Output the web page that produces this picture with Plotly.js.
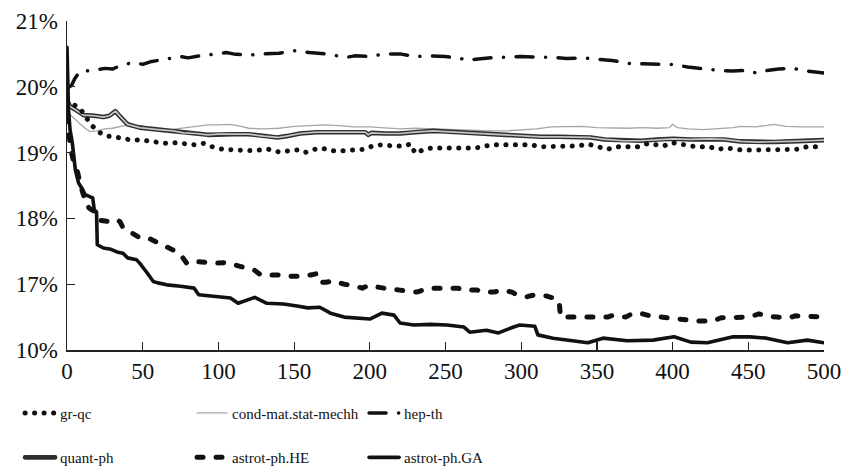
<!DOCTYPE html>
<html>
<head>
<meta charset="utf-8">
<script src="https://cdn.plot.ly/plotly-3.0.1.min.js"></script>
<style>
html,body{margin:0;padding:0;background:#fff;}
#chart{width:845px;height:469px;}
.js-line{stroke-linecap:round;stroke-linejoin:round;}
</style>
</head>
<body>
<div id="chart"></div>
<script>
// ---- data ----
const seriesNames = ["gr-qc", "cond-mat.stat-mechh", "hep-th", "quant-ph", "astrot-ph.HE", "astrot-ph.GA"];

const grqcX = [0,3,6,9,12,14,17,21,27,32,37,44,50,55,60,66,72,79,84,90,97,103,110,120,128,133,140,145,152,157,165,171,176,183,190,196,203,209,215,222,227,230,236,241,250,260,270,281,290,300,306,313,320,330,337,344,350,357,363,370,377,384,394,400,407,415,424,430,436,445,456,465,476,482,489,496,500];
const grqcY = [19.80,19.75,19.70,19.66,19.55,19.48,19.40,19.31,19.25,19.24,19.21,19.19,19.19,19.17,19.16,19.14,19.15,19.14,19.12,19.14,19.08,19.05,19.04,19.03,19.04,19.05,19.01,19.03,19.04,19.00,19.06,19.06,19.03,19.03,19.05,19.05,19.11,19.12,19.10,19.10,19.13,18.99,19.05,19.07,19.07,19.07,19.07,19.12,19.12,19.12,19.12,19.09,19.09,19.10,19.10,19.13,19.09,19.05,19.09,19.09,19.09,19.14,19.10,19.15,19.12,19.09,19.09,19.05,19.07,19.04,19.04,19.05,19.05,19.05,19.09,19.09,19.09];

const condX = [1,4,8,12,15,20,25,30,35,40,48,55,60,66,72,77,85,93,100,108,115,120,130,140,150,160,170,180,190,200,210,220,230,240,250,260,270,280,290,300,310,320,330,340,350,360,370,380,390,398,400,403,410,420,430,440,445,455,467,475,485,500];
const condY = [19.60,19.53,19.45,19.37,19.32,19.33,19.36,19.37,19.40,19.42,19.41,19.37,19.35,19.34,19.36,19.37,19.40,19.42,19.42,19.43,19.40,19.37,19.36,19.37,19.40,19.41,19.42,19.41,19.39,19.39,19.38,19.36,19.37,19.36,19.36,19.35,19.34,19.33,19.33,19.34,19.36,19.39,19.40,19.40,19.38,19.37,19.37,19.38,19.37,19.38,19.43,19.38,19.36,19.35,19.36,19.38,19.40,19.39,19.43,19.40,19.39,19.39];

const hepX = [0,3,5,8,10,15,20,25,30,35,40,45,50,55,60,70,75,80,90,100,105,110,120,130,140,150,155,160,170,180,185,190,200,210,220,230,240,250,260,265,270,280,290,300,310,320,330,340,350,360,370,375,380,390,400,410,420,430,440,450,455,460,470,480,485,490,500];
const hepY = [19.98,20.02,20.12,20.22,20.25,20.24,20.26,20.28,20.27,20.32,20.35,20.37,20.34,20.38,20.40,20.44,20.46,20.44,20.48,20.50,20.52,20.50,20.48,20.50,20.51,20.55,20.53,20.52,20.50,20.47,20.45,20.47,20.46,20.50,20.50,20.46,20.47,20.46,20.43,20.40,20.42,20.44,20.45,20.46,20.45,20.45,20.43,20.44,20.42,20.40,20.36,20.34,20.35,20.35,20.34,20.30,20.27,20.25,20.24,20.25,20.21,20.24,20.27,20.28,20.25,20.24,20.21];

const quantX = [0,2,5,11,18,24,28,32,35,40,48,55,60,70,77,85,93,100,110,120,130,139,145,154,165,176,185,197,199,201,210,220,230,242,250,264,275,285,295,305,313,325,335,346,355,368,379,390,400,412,425,434,445,456,467,478,490,500];
const quantY = [19.80,19.70,19.66,19.57,19.56,19.54,19.56,19.63,19.55,19.43,19.38,19.36,19.35,19.33,19.30,19.29,19.27,19.28,19.28,19.28,19.25,19.23,19.25,19.29,19.31,19.31,19.30,19.31,19.27,19.30,19.29,19.29,19.31,19.33,19.32,19.30,19.29,19.27,19.26,19.25,19.24,19.24,19.23,19.23,19.20,19.18,19.18,19.20,19.21,19.20,19.21,19.20,19.17,19.16,19.16,19.17,19.18,19.19];

const heX = [0,1,2,4,7,9,11,12,13,15,17,20,22,29,33,35,37,40,47,52,58,64,70,75,79,82,90,94,99,105,111,118,124,128,137,141,148,153,161,165,167,171,176,183,189,195,199,207,212,220,226,231,239,247,251,258,263,271,275,282,287,294,297,304,309,317,321,325,326,330,336,342,348,357,361,369,374,380,385,392,399,405,408,416,420,427,432,440,443,451,457,463,469,477,481,489,492,500];
const heY = [19.85,19.50,19.10,18.90,18.70,18.50,18.35,18.25,18.20,18.15,18.12,18.08,17.97,17.95,17.98,17.95,17.86,17.82,17.72,17.72,17.66,17.60,17.52,17.45,17.32,17.35,17.33,17.32,17.32,17.33,17.29,17.26,17.21,17.14,17.14,17.14,17.12,17.12,17.14,17.16,17.03,17.03,17.05,17.00,16.98,16.94,16.98,16.94,16.93,16.91,16.90,16.88,16.94,16.94,16.94,16.94,16.91,16.91,16.88,16.88,16.91,16.88,16.84,16.81,16.84,16.82,16.79,16.75,16.50,16.50,16.50,16.50,16.50,16.50,16.53,16.50,16.56,16.55,16.52,16.50,16.49,16.47,16.47,16.44,16.44,16.44,16.49,16.50,16.50,16.50,16.55,16.51,16.50,16.49,16.52,16.50,16.51,16.50];

const gaX = [0,1,2,3.5,5.5,7.6,10,12,15,17,18,19.5,20,24,29,33,37,40,46,48,53,57,60,66,75,84,87,97,108,113,124,132,143,152,159,167,174,183,200,208,216,220,229,240,251,262,266,277,285,295,299,309,311,321,330,339,344,354,370,387,401,412,423,440,451,462,476,489,500];
const gaY = [20.60,19.65,19.35,19.15,18.74,18.54,18.45,18.36,18.33,18.31,18.13,18.10,17.60,17.55,17.53,17.49,17.47,17.40,17.37,17.32,17.17,17.04,17.02,16.99,16.97,16.94,16.84,16.82,16.79,16.71,16.80,16.71,16.70,16.67,16.64,16.65,16.56,16.50,16.47,16.56,16.53,16.41,16.38,16.39,16.38,16.35,16.27,16.30,16.26,16.35,16.38,16.36,16.23,16.18,16.15,16.12,16.11,16.18,16.14,16.15,16.20,16.12,16.11,16.20,16.20,16.18,16.11,16.15,16.11];

const yTickVals = [16, 17, 18, 19, 20, 21];
const yTickText = ["10%", "17%", "18%", "19%", "20%", "21%"];
const xTickVals = [0, 50, 100, 150, 200, 250, 300, 350, 400, 450, 500];

// ---- traces ----
const traces = [
  {x: condX, y: condY, name: seriesNames[1], mode: 'lines', legend: 'legend', legendrank: 2,
   line: {color: '#a6a6a6', width: 1.3}},
  {x: quantX, y: quantY, name: seriesNames[3], mode: 'lines', legend: 'legend2', legendrank: 1,
   line: {color: '#2e2e2e', width: 4.6}},
  {x: quantX, y: quantY, name: seriesNames[3], mode: 'lines', showlegend: false, hoverinfo: 'skip',
   line: {color: '#c4c4c4', width: 1.7}},
  {x: grqcX, y: grqcY, name: seriesNames[0], mode: 'lines', legend: 'legend', legendrank: 1,
   line: {color: '#111', width: 5, dash: '0.1px,9.4px'}},
  {x: hepX, y: hepY, name: seriesNames[2], mode: 'lines', legend: 'legend', legendrank: 3,
   line: {color: '#111', width: 3.5, dash: '17px,12.5px,0.1px,12.5px'}},
  {x: heX, y: heY, name: seriesNames[4], mode: 'lines', legend: 'legend2', legendrank: 2,
   line: {color: '#111', width: 5, dash: '6px,13px'}},
  {x: gaX, y: gaY, name: seriesNames[5], mode: 'lines', legend: 'legend2', legendrank: 3,
   line: {color: '#111', width: 3.6}}
];

const fontFam = 'Liberation Serif';
const legendCommon = {
  orientation: 'h', xanchor: 'left', yanchor: 'middle', x: -0.062,
  entrywidth: 127, itemwidth: 30, bgcolor: 'rgba(0,0,0,0)',
  font: {family: fontFam, size: 15, color: '#111'}
};

const layout = {
  width: 845, height: 469,
  margin: {l: 67, r: 21, t: 21, b: 119, autoexpand: false},
  paper_bgcolor: '#fff', plot_bgcolor: '#fff',
  font: {family: fontFam, color: '#111'},
  showlegend: true,
  xaxis: {
    range: [0, 500], tickvals: xTickVals, ticks: 'inside', ticklen: 8, tickwidth: 1.2, tickcolor: '#222',
    showline: true, linecolor: '#222', linewidth: 1.5, showgrid: false, zeroline: false,
    tickfont: {family: fontFam, size: 23, color: '#111'}, ticklabelstandoff: 0
  },
  yaxis: {
    range: [16, 21], tickvals: yTickVals, ticktext: yTickText, ticks: 'inside', ticklen: 8, tickwidth: 1.2, tickcolor: '#222',
    showline: true, linecolor: '#222', linewidth: 1.5, showgrid: false, zeroline: false,
    tickfont: {family: fontFam, size: 23, color: '#111'}, ticklabelstandoff: 3
  },
  legend: Object.assign({}, legendCommon, {y: -0.192}),
  legend2: Object.assign({}, legendCommon, {y: -0.327})
};

Plotly.newPlot('chart', traces, layout, {staticPlot: true, displayModeBar: false});
</script>
</body>
</html>
